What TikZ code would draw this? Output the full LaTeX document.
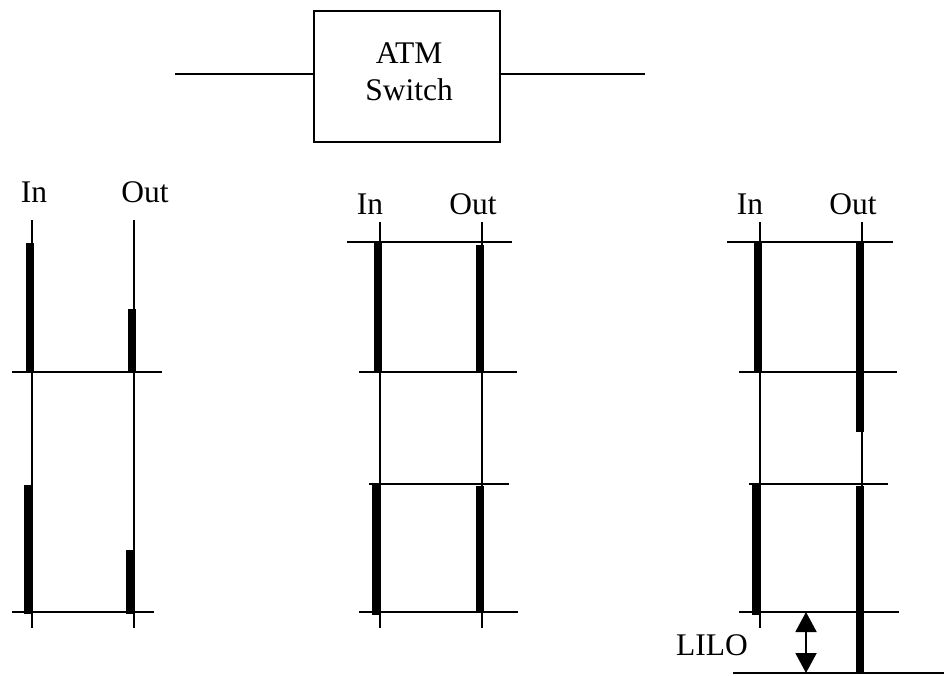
\documentclass[tikz,border=0pt]{standalone}
\usepackage{fontspec}
\setmainfont{Liberation Serif}
\usetikzlibrary{arrows.meta}
\begin{document}
\begin{tikzpicture}[x=1pt,y=-1pt,
  thinline/.style={line width=1.7pt},
  bar/.style={line width=7.5pt,line cap=butt},
  lbl/.style={inner sep=0pt,anchor=base,font=\fontsize{31.5}{37}\selectfont},
  switchbox/.style={draw,line width=2pt,minimum width=186pt,minimum height=131pt,inner sep=0pt},
  switchtext/.style={align=center,font=\fontsize{31.5}{37}\selectfont,inner sep=0pt}]
\useasboundingbox (0,0) rectangle (944,675);
% top switch
\node[switchbox] (sw) at (407,76.5) {};
\node[switchtext] (swt) at ([xshift=2pt,yshift=5pt]sw.center) {ATM\\Switch};
\coordinate (lin) at (175,74);
\coordinate (rout) at (645,74);
\draw[thinline] (lin) -- (lin -| sw.west);
\draw[thinline] (sw.east |- rout) -- (rout);

% diagram 1
\node[lbl] (in1) at (34,202) {In};
\node[lbl] (out1) at (145,202) {Out};
\draw[thinline] (32,220) -- (32,628);
\draw[thinline] (134,220) -- (134,628);
\draw[thinline] (12,372) -- (162,372);
\draw[thinline] (12,612) -- (154,612);
\draw[bar] (30,243) -- (30,372);
\draw[bar] (132,309) -- (132,372);
\draw[bar] (28,485) -- (28,614);
\draw[bar] (130,550) -- (130,614);

% diagram 2
\node[lbl] (in2) at (370,214) {In};
\node[lbl] (out2) at (473,214) {Out};
\draw[thinline] (380,222) -- (380,628);
\draw[thinline] (482,222) -- (482,628);
\draw[thinline] (347,242) -- (512,242);
\draw[thinline] (359,372) -- (517,372);
\draw[thinline] (369,484) -- (509,484);
\draw[thinline] (359,612) -- (518,612);
\draw[bar] (378,242) -- (378,372);
\draw[bar] (480,245) -- (480,372);
\draw[bar] (376,484) -- (376,615);
\draw[bar] (480,486) -- (480,613);

% diagram 3
\node[lbl] (in3) at (750,214) {In};
\node[lbl] (out3) at (853,214) {Out};
\draw[thinline] (760,222) -- (760,628);
\draw[thinline] (862,222) -- (862,673);
\draw[thinline] (727,242) -- (893,242);
\draw[thinline] (739,372) -- (897,372);
\draw[thinline] (749,484) -- (888,484);
\draw[thinline] (739,612) -- (899,612);
\draw[thinline] (733,673) -- (944,673);
\draw[bar] (758,242) -- (758,372);
\draw[bar] (860,243) -- (860,432);
\draw[bar] (756,484) -- (756,615);
\draw[bar] (860,486) -- (860,673);
\coordinate (at) at (806,612);
\coordinate (ab) at (806,673);
\draw[line width=2pt,{Triangle[width=21pt,length=20pt]}-{Triangle[width=21pt,length=20pt]}] (at) -- (ab);
\node[lbl,anchor=base west] (lilo) at (676,655) {LILO};
\end{tikzpicture}
\end{document}
